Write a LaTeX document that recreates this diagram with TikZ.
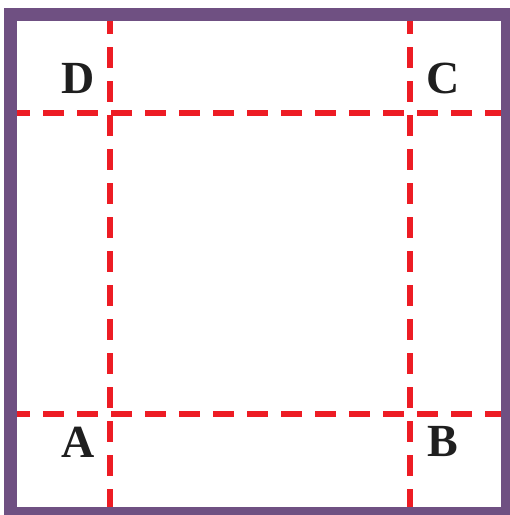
\documentclass[tikz,border=0pt]{standalone}
\usepackage{fontspec}
\setmainfont{Liberation Serif}
\definecolor{framepurple}{RGB}{111,80,130}
\definecolor{dashred}{RGB}{237,28,36}
\tikzset{
  frame/.style={draw=framepurple, line width=13pt},
  cutline/.style={draw=dashred, line width=6.5pt, dash pattern=on 21pt off 13pt, dash phase=8pt},
  corner/.style={font=\fontsize{46}{46}\selectfont\bfseries, text=black!88, inner sep=0pt}
}
\begin{document}
\begin{tikzpicture}[x=1pt,y=-1pt]
\useasboundingbox (0,0) rectangle (510,515);
\fill[white] (0,0) rectangle (510,515);
% dashed lines
\draw[cutline] (17,113) -- (501,113);
\draw[cutline] (17,414) -- (501,414);
\draw[cutline] (110,21) -- (110,507);
\draw[cutline] (410,21) -- (410,507);
% frame
\draw[frame] (10.5,14.5) rectangle (507.5,513.5);
% labels
\node[corner] (D) at (78,78) {D};
\node[corner] (C) at (443,78) {C};
\node[corner] (A) at (78,442) {A};
\node[corner] (B) at (443,442) {B};
\end{tikzpicture}
\end{document}
